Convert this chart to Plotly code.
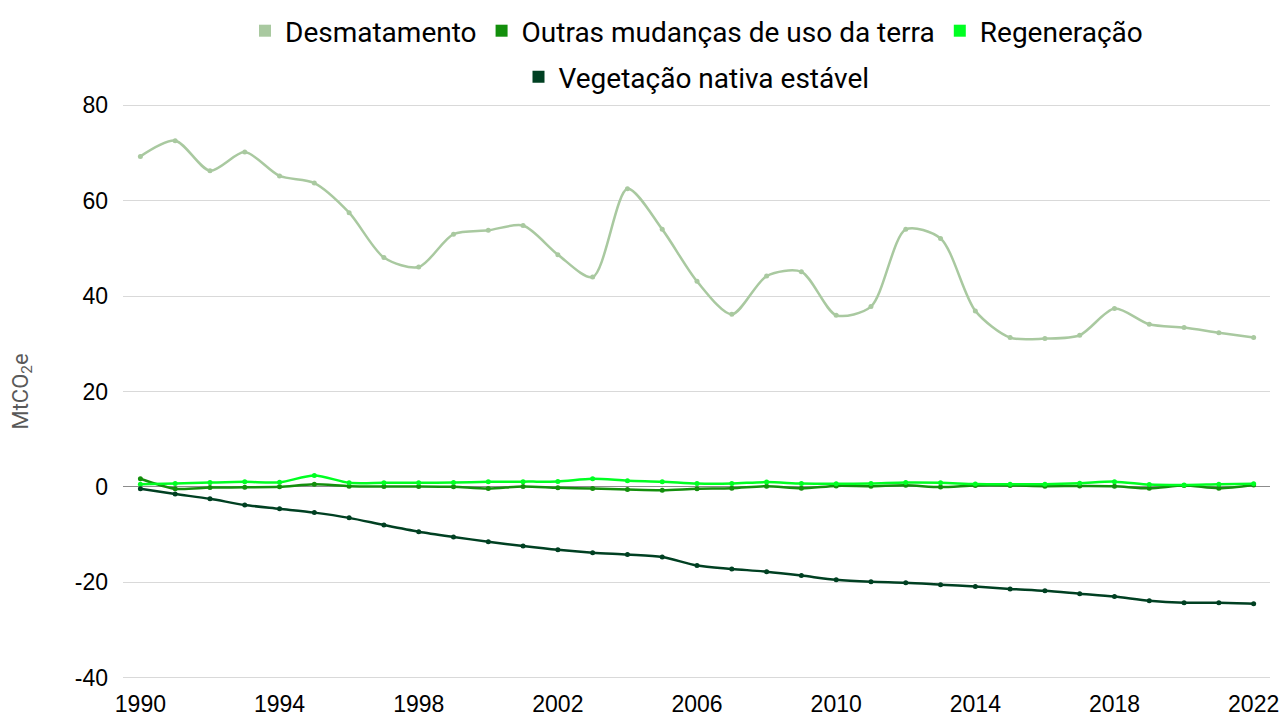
import plotly.graph_objects as go

years = list(range(1990, 2023))

desmatamento = [69.3, 72.6, 66.3, 70.2, 65.2, 63.7, 57.5, 48.1, 46.1, 53.0,
                53.8, 54.8, 48.7, 44.0, 62.5, 54.0, 43.1, 36.2, 44.2, 45.1,
                36.0, 37.8, 54.0, 52.1, 36.9, 31.3, 31.1, 31.8, 37.4, 34.1,
                33.4, 32.3, 31.3]

outras_mudancas = [1.7, -0.4, -0.15, -0.1, 0.0, 0.55, 0.15, 0.1, 0.1, 0.0,
                   -0.35, 0.1, -0.2, -0.35, -0.55, -0.7, -0.4, -0.3, 0.15, -0.3,
                   0.2, 0.15, 0.35, -0.05, 0.3, 0.3, 0.15, 0.2, 0.15, -0.3,
                   0.3, -0.3, 0.4]

regeneracao = [0.55, 0.7, 0.9, 1.05, 0.95, 2.4, 0.85, 0.85, 0.85, 0.9,
               1.05, 1.1, 1.15, 1.7, 1.3, 1.1, 0.7, 0.7, 1.0, 0.7,
               0.65, 0.7, 0.9, 0.85, 0.6, 0.55, 0.55, 0.75, 1.1, 0.5,
               0.4, 0.55, 0.65]

vegetacao_estavel = [-0.4, -1.5, -2.5, -3.8, -4.6, -5.4, -6.5, -8.0, -9.4, -10.5,
                     -11.5, -12.4, -13.2, -13.8, -14.2, -14.7, -16.5, -17.2, -17.8, -18.6,
                     -19.5, -19.9, -20.1, -20.5, -20.9, -21.4, -21.8, -22.4, -23.0, -23.9,
                     -24.3, -24.3, -24.5]

series = [
    ("Desmatamento", desmatamento, "#A9C9A0", "legend"),
    ("Outras mudanças de uso da terra", outras_mudancas, "#138F0C", "legend"),
    ("Regeneração", regeneracao, "#00FF22", "legend"),
    ("Vegetação nativa estável", vegetacao_estavel, "#004022", "legend2"),
]

x_ticks = list(range(1990, 2023, 4))
y_ticks = [-40, -20, 0, 20, 40, 60, 80]

TEXT_FONT = "Roboto, Lato, sans-serif"
TICK_FONT = "Liberation Sans, Arial, sans-serif"

fig = go.Figure()

for name, values, color, leg in series:
    fig.add_trace(go.Scatter(
        x=years, y=values, name=name, legendgroup=name, showlegend=False,
        mode="lines+markers",
        line=dict(color=color, width=2.5, shape="spline", smoothing=0.8),
        marker=dict(color=color, size=5),
    ))

# square legend keys
for name, values, color, leg in series:
    fig.add_trace(go.Scatter(
        x=[None], y=[None], name=name, legendgroup=name, legend=leg,
        mode="markers",
        marker=dict(color=color, symbol="square", size=16),
    ))

legend_common = dict(
    orientation="h", xref="paper", x=0.5, xanchor="center",
    yref="container", yanchor="middle",
    font=dict(family=TEXT_FONT, size=28, color="#000000"),
    itemsizing="constant", itemwidth=30, tracegroupgap=0,
    bgcolor="rgba(0,0,0,0)",
)

# range padded slightly so the 80 and -40 gridlines stay inside the plot area
fig.update_layout(
    width=1288, height=716,
    margin=dict(l=123, r=18, t=103, b=36, autoexpand=False),
    paper_bgcolor="white", plot_bgcolor="white",
    showlegend=True,
    legend=dict(y=1 - 31 / 716, **legend_common),
    legend2=dict(y=1 - 77 / 716, **legend_common),
    xaxis=dict(
        range=[1989.5, 2022.47],
        tickmode="array", tickvals=x_ticks, ticktext=[str(v) for v in x_ticks],
        showgrid=False, zeroline=False, showline=False,
        tickfont=dict(family=TICK_FONT, size=23, color="#000000"),
        ticks="", ticklabelstandoff=8,
    ),
    yaxis=dict(
        range=[-40.5, 80.5],
        tickmode="array", tickvals=y_ticks, ticktext=[str(v) for v in y_ticks],
        showgrid=True, gridcolor="#D9D9D9", gridwidth=1,
        zeroline=True, zerolinecolor="#8C8C8C", zerolinewidth=1.3,
        showline=False, ticks="",
        tickfont=dict(family=TICK_FONT, size=23, color="#000000"),
        ticklabelstandoff=14,
        title=dict(text="MtCO<sub>2</sub>e", standoff=40,
                   font=dict(family=TEXT_FONT, size=22, color="#595959")),
    ),
)

fig.write_html("out.html")
